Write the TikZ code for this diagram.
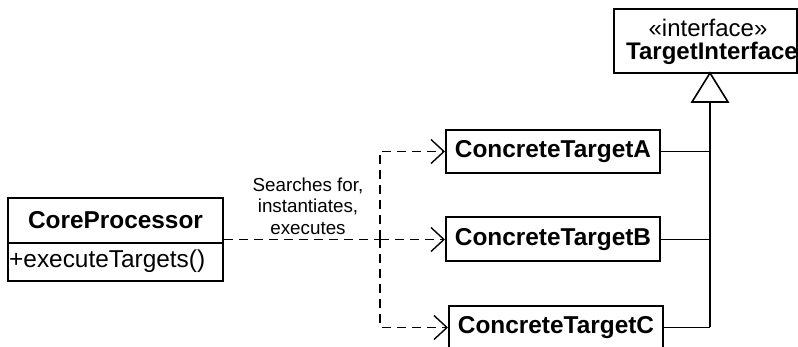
\documentclass[tikz,border=0pt]{standalone}
\usepackage{fontspec}
\setmainfont{Liberation Sans}
\usetikzlibrary{arrows.meta}
\tikzset{
  umlbox/.style={draw, line width=2pt, inner sep=0pt, font=\fontsize{24.4pt}{28pt}\selectfont\bfseries},
  dep/.style={line width=1.4pt, dash pattern=on 9pt off 6pt, -{Straight Barb[length=13pt,width=24pt,line width=1.4pt]}},
  depline/.style={line width=1.4pt, dash pattern=on 9pt off 6pt},
  gen/.style={line width=1.6pt},
  lbl/.style={font=\fontsize{18.8pt}{21.5pt}\selectfont, align=center, inner sep=0pt}
}
\begin{document}
\begin{tikzpicture}[x=1pt,y=-1pt]
\clip (0,0) rectangle (798,347);
\fill[white] (0,0) rectangle (798,347);
% interface
\node[umlbox, minimum width=183pt, minimum height=64pt] (iface) at (705.5,41) {};
\node[font=\fontsize{24pt}{28pt}\selectfont, inner sep=0pt] (ster) at (708,28) {«interface»};
\node[font=\fontsize{24pt}{28pt}\selectfont\bfseries, inner sep=0pt] (iname) at (712,53) {TargetInterface};
% concrete targets
\node[umlbox, minimum width=214pt, minimum height=43pt] (A) at (553,151.5) {ConcreteTargetA};
\node[umlbox, minimum width=214pt, minimum height=44pt] (B) at (553,239.5) {ConcreteTargetB};
\node[umlbox, minimum width=214pt, minimum height=43pt] (C) at (556,327.5) {ConcreteTargetC};
% core processor
\node[umlbox, minimum width=215pt, minimum height=83pt] (core) at (115.5,239.5) {};
\draw[line width=2pt] (core.west |- 0,243) -- (core.east |- 0,243);
\node[font=\fontsize{24.4pt}{28pt}\selectfont\bfseries, inner sep=0pt] (cname) at (115.5,220) {CoreProcessor};
\node[font=\fontsize{24.4pt}{28pt}\selectfont, inner sep=0pt, anchor=west] (cop) at (9,261) {+executeTargets()};
% dependency
\coordinate (split) at (380,239.5);
\draw[depline] (core.east) -- (split);
\draw[dep] (split) |- (A.west);
\draw[dep] (split) -- (B.west);
\draw[dep] (split) |- (C.west);
\node[lbl] (note) at (308,206) {Searches for,\\instantiates,\\executes};
% generalization
\coordinate (apex) at (710,73);
\coordinate (tbase) at (710,102);
\draw[line width=1.6pt, fill=white] (apex) -- (692,102) -- (728,102) -- cycle;
\draw[gen] (tbase) -- (710,327.5);
\draw[gen] (A.east) -- (A.east -| tbase);
\draw[gen] (B.east) -- (B.east -| tbase);
\draw[gen] (C.east) -- (C.east -| tbase);
\end{tikzpicture}
\end{document}
